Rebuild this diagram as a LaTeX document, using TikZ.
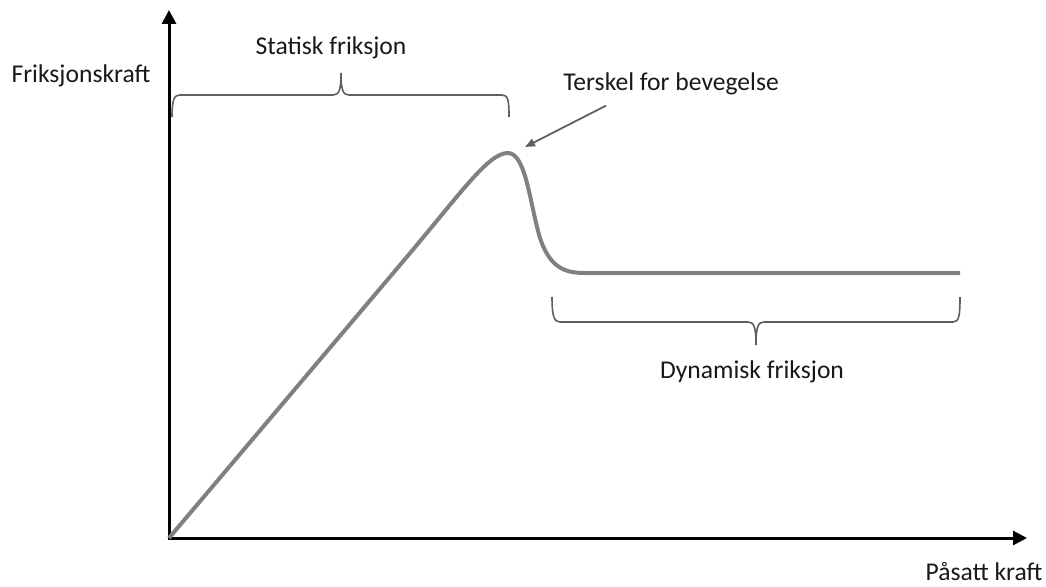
\documentclass[tikz,border=0pt]{standalone}
\usepackage{fontspec}
\setmainfont{Carlito}
\usepackage{tikz}
\usetikzlibrary{arrows.meta,calc}
\definecolor{curvegray}{RGB}{128,128,128}
\definecolor{bracegray}{RGB}{95,95,95}
\definecolor{textblack}{RGB}{25,25,25}

\begin{document}
\begin{tikzpicture}[x=1pt,y=-1pt]
\tikzstyle{label}=[inner sep=0pt,anchor=base,text=textblack,font=\fontsize{25.6}{30}\selectfont]
\tikzstyle{axis}=[line width=3pt,{Triangle[length=14pt,width=14pt]}-{Triangle[length=14pt,width=14pt]}]
\tikzstyle{curve}=[curvegray,line width=4pt,line join=round]
\tikzstyle{brace}=[bracegray,line width=1.6pt]
\tikzstyle{pointer}=[bracegray,line width=1.8pt,-{Triangle[length=10pt,width=8pt]}]
\useasboundingbox (0,0) rectangle (1046,586);

\coordinate (O) at (169,538);
\coordinate (ytop) at (169,10);
\coordinate (xend) at (1027,538);
\coordinate (peak) at (525,147);

\node[label] (fy) at (81,82) {Friksjonskraft};
\node[label] (fx) at (984,580) {Påsatt kraft};
\node[label] (statisk) at (331,55) {Statisk friksjon};
\node[label] (terskel) at (671,90) {Terskel for bevegelse};
\node[label] (dynamisk) at (752,378) {Dynamisk friksjon};

% akser
\draw[axis] (ytop) -- (O) -- (xend);

% friksjonskurve
\draw[curve] (O) -- (400,265)
  .. controls (462,192) and (488,153) .. (508,153)
  .. controls (526,153) and (530,205) .. (540,238)
  .. controls (550,268) and (565,273) .. (585,273) -- (960,273);

% klammer
\draw[brace] (172,117) .. controls (172,100) and (174,95) .. (180,95) -- (333,95)
  .. controls (339,95) and (341,90) .. (341,73)
  .. controls (341,90) and (343,95) .. (349,95) -- (502,95)
  .. controls (508,95) and (509,100) .. (509,117);
\draw[brace] (552,297) .. controls (552,316) and (554,322) .. (560,322) -- (748,322)
  .. controls (754,322) and (756,327) .. (756,345)
  .. controls (756,327) and (758,322) .. (764,322) -- (953,322)
  .. controls (959,322) and (960,316) .. (960,297);

\draw[pointer] ([shift={(43,11)}]terskel.south west) -- (peak);
\end{tikzpicture}
\end{document}
